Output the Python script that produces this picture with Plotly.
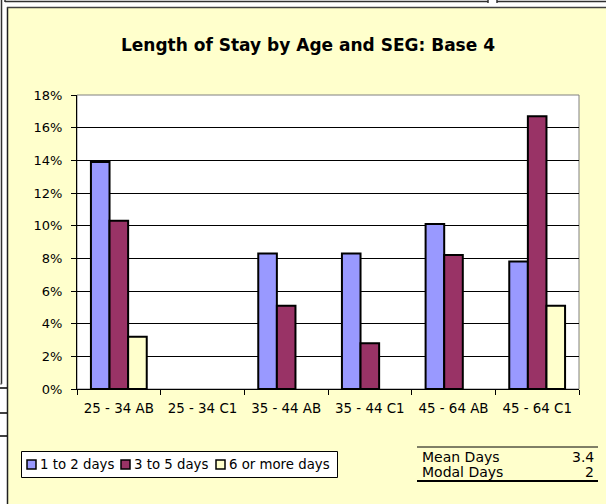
import plotly.graph_objects as go

categories = ["25 - 34 AB", "25 - 34 C1", "35 - 44 AB", "35 - 44 C1", "45 - 64 AB", "45 - 64 C1"]
series_names = ["1 to 2 days", "3 to 5 days", "6 or more days"]
days_1_2 = [0.139, None, 0.083, 0.083, 0.101, 0.078]
days_3_5 = [0.103, None, 0.051, 0.028, 0.082, 0.167]
days_6_plus = [0.032, None, None, None, None, 0.051]
series_colors = ["#9999FF", "#993366", "#FFFFCC"]
y_ticks = [0, 0.02, 0.04, 0.06, 0.08, 0.10, 0.12, 0.14, 0.16, 0.18]
stats_labels = ["Mean Days", "Modal Days"]
stats_values = ["3.4", "2"]
title_text = "Length of Stay by Age and SEG: Base 4"

W, H = 606, 504
L, R, T, B = 77, 27, 95, 115
PW, PH = W - L - R, H - T - B

def X(px):
    return (px - L) / PW

def Y(py):
    return 1 - (py - T) / PH

FONT = "DejaVu Sans"

fig = go.Figure()
for name, vals, col in zip(series_names, [days_1_2, days_3_5, days_6_plus], series_colors):
    fig.add_trace(go.Bar(
        x=categories, y=vals, name=name,
        marker=dict(color=col, line=dict(color="#000000", width=2)),
        hoverinfo="skip", showlegend=False,
    ))

shapes = []
def seg(x0, y0, x1, y1, c="#303030", w=1.5):
    shapes.append(dict(type="line", xref="paper", yref="paper", x0=X(x0), x1=X(x1), y0=Y(y0), y1=Y(y1),
                       line=dict(color=c, width=w)))

# white strips outside the chart sheet
shapes.append(dict(type="rect", xref="paper", yref="paper", x0=X(0), x1=X(7), y0=Y(0), y1=Y(H),
                   fillcolor="white", line=dict(width=0), layer="below"))
shapes.append(dict(type="rect", xref="paper", yref="paper", x0=X(0), x1=X(W), y0=Y(0), y1=Y(7),
                   fillcolor="white", line=dict(width=0), layer="below"))
# chart sheet border
seg(7.5, 7, 7.5, H, "#202020", 1.5)
seg(7, 7.5, W, 7.5, "#404040", 1.5)
# spreadsheet artefacts around the chart
seg(1.5, 0, 1.5, 384)
seg(0, 384, 2, 384, "#707070", 1)
seg(5, 1.5, 488, 1.5)
seg(497, 1.5, W, 1.5)
seg(5, 0, 5, 2)
seg(488, 0, 488, 3)
seg(497, 0, 497, 3)
for yy in [388, 413, 436]:
    seg(0, yy, 7, yy, "#000000", 1.5)
# plot area border (gray)
shapes.append(dict(type="rect", xref="paper", yref="paper", x0=0, x1=1, y0=0, y1=1,
                   line=dict(color="#808080", width=1), layer="below"))
# stats box lines
seg(417, 447, 598, 447, "#000000", 1)
seg(417, 481, 598, 481, "#000000", 2)

annotations = []
for i, (lab, val) in enumerate(zip(stats_labels, stats_values)):
    yy = 457 + i * 15
    annotations.append(dict(xref="paper", yref="paper", x=X(420), y=Y(yy), text=lab, showarrow=False,
                            xanchor="left", yanchor="middle", font=dict(family=FONT, size=14, color="#000")))
    annotations.append(dict(xref="paper", yref="paper", x=X(596), y=Y(yy), text=val, showarrow=False,
                            xanchor="right", yanchor="middle", font=dict(family=FONT, size=14, color="#000")))

# legend box (drawn as shapes + text so the compact Excel layout is kept)
shapes.append(dict(type="rect", xref="paper", yref="paper", x0=X(21.5), x1=X(337.5), y0=Y(451.5), y1=Y(477.5),
                   fillcolor="#FFFFFF", line=dict(color="#000000", width=1)))
legend_square_x = [27, 121, 216]
legend_y = 464.5
for name, col, sx in zip(series_names, series_colors, legend_square_x):
    shapes.append(dict(type="rect", xref="paper", yref="paper", x0=X(sx), x1=X(sx + 9), y0=Y(legend_y - 4.5),
                       y1=Y(legend_y + 4.5), fillcolor=col, line=dict(color="#000000", width=1.5)))
    annotations.append(dict(xref="paper", yref="paper", x=X(sx + 11), y=Y(legend_y), text=name, showarrow=False,
                            xanchor="left", yanchor="middle", font=dict(family=FONT, size=13.3, color="#000")))

fig.update_layout(
    width=W, height=H,
    margin=dict(l=L, r=R, t=T, b=B, pad=0),
    paper_bgcolor="#FFFFCC",
    plot_bgcolor="#FFFFFF",
    barmode="group",
    bargap=0.333,
    bargroupgap=0,
    title=dict(text="<b>" + title_text + "</b>", x=X(308), xref="paper", xanchor="center",
               y=1 - 45 / H, yref="container", yanchor="middle",
               font=dict(family=FONT, size=17, color="#000")),
    font=dict(family=FONT, size=12, color="#000"),
    xaxis=dict(type="category", showline=True, linecolor="#000", linewidth=1,
               ticks="outside", tickson="boundaries", ticklen=5, tickcolor="#000",
               ticklabelstandoff=7,
               showgrid=False, tickfont=dict(family=FONT, size=13.4, color="#000"), fixedrange=True),
    yaxis=dict(range=[0, 0.18], tickvals=y_ticks, tickformat=".0%", showline=True, linecolor="#000",
               linewidth=1, ticks="outside", ticklen=5, tickcolor="#000", ticklabelstandoff=6,
               showgrid=True, gridcolor="#000", gridwidth=1, zeroline=False,
               tickfont=dict(family=FONT, size=13, color="#000"), fixedrange=True),
    showlegend=False,
    shapes=shapes,
    annotations=annotations,
)

fig.write_html("out.html")
